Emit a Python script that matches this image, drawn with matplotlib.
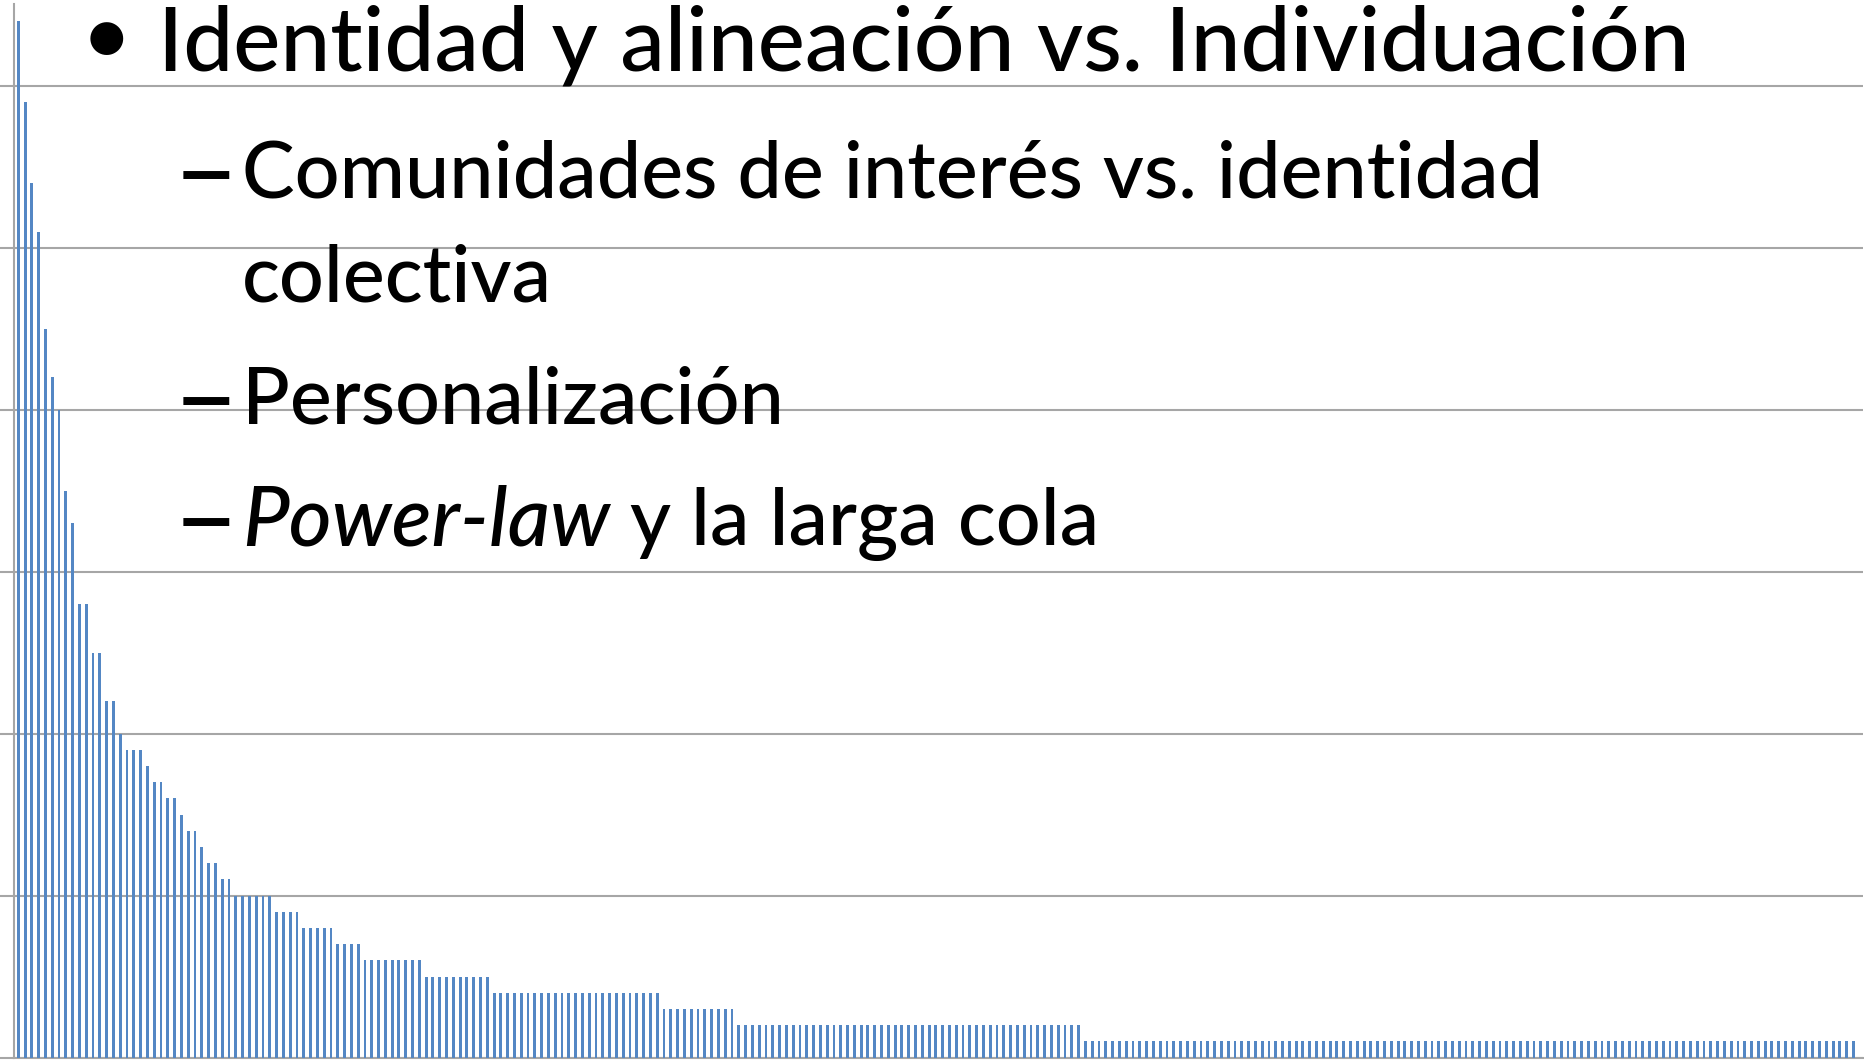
import matplotlib
matplotlib.use('Agg')
import matplotlib.pyplot as plt
import numpy as np

# bar heights (gridlines every 10 units)
head_values = [64, 59, 54, 51, 45, 42, 40, 35, 33, 28, 28, 25, 25, 22, 22, 20,
               19, 19, 19, 18, 17, 17, 16, 16, 15, 14, 14, 13, 12, 12, 11, 11]
# the long tail: each level and how many bars sit at it
tail_levels = [10, 9, 8, 7, 6, 5, 4, 3, 2, 1]
tail_counts = [6, 4, 5, 4, 9, 10, 25, 11, 51, 114]

grid_ticks = [0, 10, 20, 30, 40, 50, 60]

title_line = "Identidad y alineación vs. Individuación"
sub_lines = ["Comunidades de interés vs. identidad", "colectiva", "Personalización"]
last_italic = "Power-law"
last_rest = " y la larga cola"

values = np.concatenate([head_values, np.repeat(tail_levels, tail_counts)])

W, H = 1865, 1060
plt.rcParams['font.family'] = ['Lato', 'DejaVu Sans']

fig = plt.figure(figsize=(W / 100, H / 100), dpi=100)
fig.patch.set_facecolor('white')

ax = fig.add_axes([14 / W, 2.5 / H, (1863 - 14) / W, 1054 / H])
x = np.arange(len(values))
ax.bar(x, values, width=0.42, color='#5487c4', zorder=3)
ax.set_xlim(-0.63, 271.4)
ax.set_ylim(0, 65.1)
ax.set_yticks(grid_ticks)
ax.yaxis.grid(True, color='#a6a6a6', lw=1.5)
ax.set_axisbelow(True)
ax.tick_params(axis='y', length=10, width=1.5, color='#a6a6a6',
               labelleft=False, direction='out')
ax.tick_params(axis='x', length=0, labelbottom=False)
for s in ['top', 'right']:
    ax.spines[s].set_visible(False)
for s in ['left', 'bottom']:
    ax.spines[s].set_color('#a6a6a6')
    ax.spines[s].set_linewidth(1.5)
ax.set_facecolor('none')

renderer = fig.canvas.get_renderer()


def fy(px):
    return 1 - px / H


def fit(t, target):
    bb = t.get_window_extent(renderer)
    t.set_fontsize(t.get_fontsize() * target / bb.width)


# first level bullet
fig.text(106 / W, fy(50), '●', fontsize=31, ha='center', va='baseline',
         family='DejaVu Sans', color='black')
t1 = fig.text(158 / W, fy(71), title_line, fontsize=60, va='baseline',
              weight='medium', color='black')
fit(t1, 1530)

# second level items
t2 = fig.text(242 / W, fy(198), sub_lines[0], fontsize=55, va='baseline',
              weight='medium', color='black')
fit(t2, 1302)
fs2 = t2.get_fontsize()
fig.text(242 / W, fy(302), sub_lines[1], fontsize=fs2, va='baseline',
         weight='medium', color='black')
fig.text(242 / W, fy(424), sub_lines[2], fontsize=fs2, va='baseline',
         weight='medium', color='black')
ti = fig.text(242 / W, fy(545), last_italic, fontsize=fs2, va='baseline',
              style='italic', weight='medium', color='black')
fit(ti, 368)
bb = ti.get_window_extent(renderer)
fig.text(bb.x1 / W, fy(545), last_rest, fontsize=fs2, va='baseline',
         weight='medium', color='black')

for ypx in [198, 424, 545]:
    fig.text(173 / W, fy(ypx + 11), '–', fontsize=fs2 * 1.45, va='baseline',
             color='black')

fig.savefig('out.png', dpi=100, facecolor='white')
